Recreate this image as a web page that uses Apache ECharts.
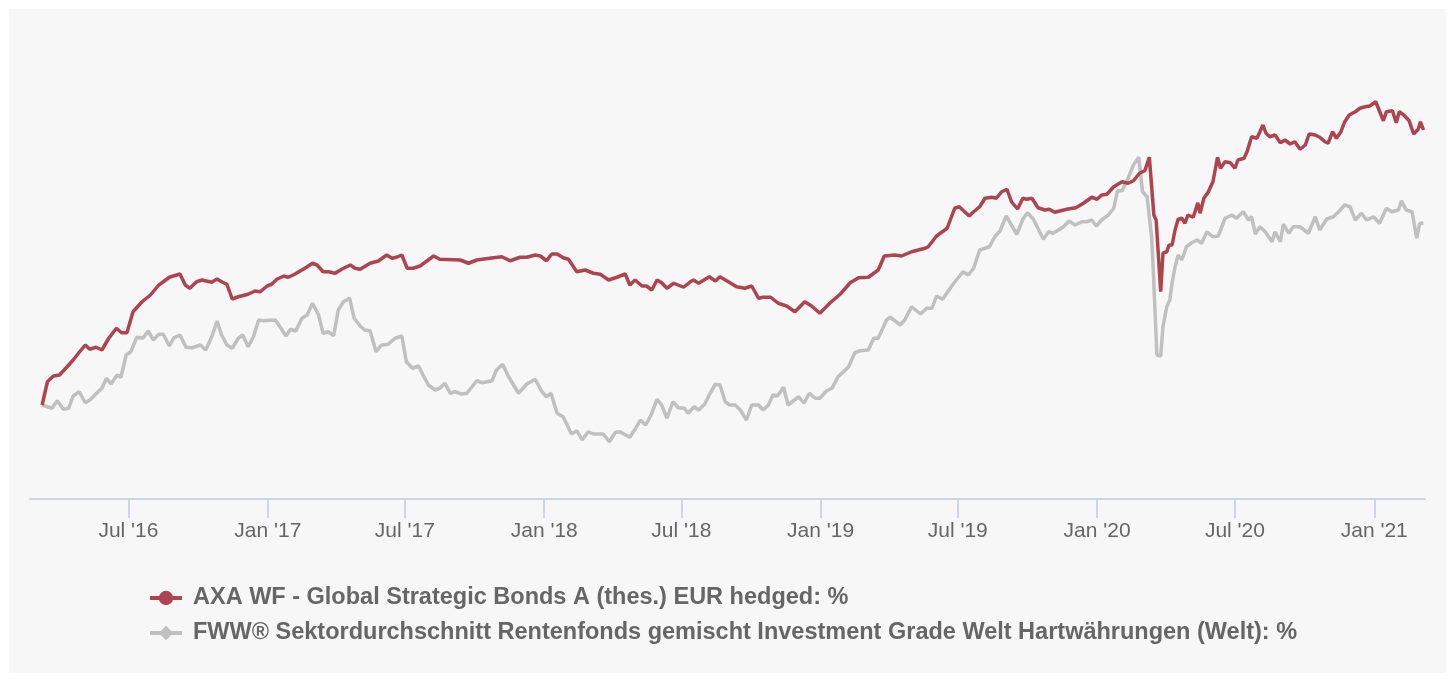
<!DOCTYPE html>
<html>
<head>
<meta charset="utf-8">
<script src="https://cdn.jsdelivr.net/npm/echarts@6/dist/echarts.min.js"></script>
<style>
  html, body { margin: 0; padding: 0; background: #fff; }
  #chart { position: absolute; left: 9px; top: 9px; width: 1437px; height: 664px; }
</style>
</head>
<body>
<div id="chart"></div>
<script>
var chart = echarts.init(document.getElementById('chart'));

// x = days since 2016-03-09, values in %
var fundName = 'AXA WF - Global Strategic Bonds A (thes.) EUR hedged: %';
var sectorName = 'FWW® Sektordurchschnitt Rentenfonds gemischt Investment Grade Welt Hartwährungen (Welt): %';

var fundDays = [0,7,15,23,33,41,48,57,63,71,79,88,98,105,112,120,132,143,154,160,
  168,182,189,195,204,211,224,231,237,244,251,259,272,281,288,297,303,310,319,325,
  334,343,349,357,363,371,378,387,396,407,413,420,433,444,455,462,468,475,482,490,
  499,508,517,525,552,563,574,591,607,618,631,640,651,658,666,673,680,688,695,706,
  717,728,737,748,759,770,776,783,792,798,805,812,818,825,834,847,856,860,867,881,
  889,895,906,917,928,937,946,952,962,972,983,994,1007,1016,1027,1040,1054,1067,1078,1091,
  1104,1112,1126,1135,1148,1166,1170,1181,1195,1205,1211,1224,1230,1238,1245,1254,1260,1267,1274,1280,
  1288,1295,1300,1307,1315,1324,1330,1337,1353,1365,1375,1386,1393,1399,1406,1415,1426,1434,1441,1449,
  1456,1462,1468,1471,1477,1480,1485,1488,1492,1496,1500,1505,1509,1513,1520,1526,1529,1534,1540,1546,
  1552,1556,1562,1569,1575,1579,1587,1591,1597,1604,1608,1612,1616,1621,1628,1635,1641,1648,1654,1661,
  1668,1673,1681,1687,1694,1698,1704,1709,1715,1720,1726,1734,1740,1747,1753,1761,1771,1775,1783,1788,
  1792,1798,1805,1811,1817,1820,1824];
var fundValues = [0,0.93,1.16,1.2,1.53,1.8,2.07,2.4,2.23,2.31,2.2,2.67,3.07,2.89,2.89,3.73,4.13,4.4,4.8,4.93,
  5.11,5.24,4.8,4.67,4.93,5.0,4.91,5.04,4.93,4.83,4.24,4.33,4.43,4.56,4.53,4.76,4.83,5.03,5.16,5.11,
  5.24,5.4,5.51,5.67,5.6,5.33,5.33,5.27,5.44,5.6,5.47,5.43,5.67,5.76,6.0,5.87,5.91,6.0,5.47,5.47,
  5.56,5.76,5.96,5.83,5.8,5.67,5.8,5.87,5.93,5.77,5.91,5.91,6.0,5.96,5.77,6.04,6.04,5.89,5.83,5.33,
  5.4,5.27,5.23,5.0,5.11,5.24,4.8,5.0,4.76,4.76,4.6,5.0,4.89,4.67,4.87,4.71,4.93,5.0,4.87,5.13,
  4.96,5.13,4.93,4.73,4.67,4.76,4.27,4.31,4.31,4.07,3.96,3.73,4.13,3.96,3.67,4.07,4.44,4.89,5.09,5.11,
  5.4,5.96,6.0,5.96,6.13,6.27,6.33,6.76,7.07,7.87,7.93,7.56,7.73,7.93,8.27,8.31,8.27,8.53,8.63,8.13,
  7.84,8.27,8.23,8.27,7.89,7.8,7.83,7.71,7.83,7.89,8.07,8.31,8.23,8.4,8.43,8.73,8.93,8.87,8.97,9.27,
  9.37,9.91,7.6,7.4,4.53,6.07,6.13,6.4,6.4,7.0,7.43,7.47,7.27,7.6,7.51,8.09,7.67,8.27,8.53,8.93,
  9.91,9.47,9.73,9.69,9.47,9.8,9.87,10.13,10.73,10.67,10.93,11.2,10.87,10.73,10.8,10.49,10.6,10.44,10.53,10.23,
  10.4,10.84,10.8,10.71,10.53,10.47,10.93,10.67,10.93,11.33,11.6,11.73,11.87,11.93,11.96,12.13,11.37,11.73,11.77,11.29,
  11.73,11.6,11.37,10.84,11.03,11.33,11.0];

var sectorDays = [0,13,20,28,35,41,49,57,63,74,79,85,91,99,104,111,117,125,133,140,
  147,154,160,168,174,182,190,198,209,216,224,231,237,244,251,259,265,272,279,286,
  292,308,314,322,328,335,343,350,357,365,371,378,385,391,398,406,412,420,426,433,
  441,448,457,466,475,481,489,497,503,510,519,525,532,539,545,554,561,574,581,594,
  600,608,616,629,640,651,660,666,672,680,688,699,706,713,721,728,741,749,757,763,
  776,783,790,797,804,812,818,825,833,840,848,853,861,867,875,882,889,895,902,908,
  915,922,930,937,946,952,959,965,971,979,985,999,1006,1013,1021,1027,1036,1043,1051,1065,
  1073,1080,1091,1098,1104,1115,1120,1133,1139,1148,1160,1168,1175,1181,1189,1203,1216,1223,1230,1238,
  1251,1258,1265,1273,1287,1295,1301,1309,1322,1329,1335,1348,1356,1364,1373,1379,1386,1392,1399,1408,
  1415,1420,1426,1434,1441,1448,1453,1459,1465,1467,1472,1477,1480,1485,1489,1492,1496,1500,1505,1511,
  1518,1525,1531,1538,1546,1553,1562,1571,1577,1586,1593,1597,1602,1608,1615,1624,1628,1635,1639,1646,
  1652,1661,1672,1681,1687,1696,1705,1712,1720,1727,1734,1742,1749,1758,1766,1775,1782,1791,1795,1801,
  1809,1815,1819,1824];
var sectorValues = [0,-0.13,0.17,-0.17,-0.13,0.36,0.53,0.09,0.2,0.53,0.67,1.07,0.84,1.2,1.11,2.0,2.13,2.71,2.67,2.96,
  2.6,2.83,2.83,2.36,2.69,2.8,2.31,2.29,2.4,2.2,2.73,3.36,2.8,2.4,2.27,2.67,2.8,2.33,2.73,3.4,
  3.37,3.4,3.13,2.76,3.03,2.96,3.47,3.6,4.07,3.6,2.87,2.93,2.77,3.8,4.13,4.27,3.47,3.16,3.0,2.97,
  2.13,2.4,2.43,2.67,2.76,1.73,1.47,1.56,1.2,0.8,0.6,0.67,0.87,0.47,0.53,0.44,0.47,0.97,0.89,0.97,
  1.4,1.63,1.13,0.47,0.84,1.03,0.53,0.33,0.47,-0.33,-0.47,-1.16,-1.03,-1.4,-1.07,-1.16,-1.16,-1.47,-1.09,-1.07,
  -1.29,-0.97,-0.6,-0.8,-0.4,0.23,0,-0.53,0.13,-0.11,-0.13,-0.33,-0.07,-0.2,0.04,0.47,0.83,0.8,0.13,0,
  0,-0.2,-0.6,0,0,-0.2,0,0.4,0.36,0.71,0,0.33,0.07,0.47,0.27,0.27,0.57,0.67,1.13,1.53,
  2.09,2.17,2.2,2.67,2.67,3.4,3.51,3.2,3.4,3.93,3.64,3.87,3.87,4.36,4.23,4.84,5.33,5.2,5.47,6.2,
  6.33,6.73,6.97,7.56,6.83,7.43,7.69,7.43,6.63,6.93,6.87,7.11,7.36,7.2,7.33,7.33,7.4,7.16,7.4,7.6,
  7.87,8.57,8.57,9.07,9.6,9.91,8.53,8.33,6.73,5.53,2.0,1.96,3.13,3.93,4.2,4.87,5.53,6.0,5.8,6.33,
  6.49,6.6,6.47,6.93,6.73,6.76,7.47,7.6,7.47,7.73,7.4,7.53,6.84,7.13,6.93,6.53,6.93,6.53,7.24,6.87,
  7.13,7.13,6.87,7.53,7.0,7.43,7.53,7.73,8.0,7.93,7.4,7.67,7.4,7.53,7.27,7.87,7.73,7.8,8.17,7.8,
  7.73,6.67,7.27,7.27];

var tickDates = ['2016-07-01','2017-01-01','2017-07-01','2018-01-01','2018-07-01',
  '2019-01-01','2019-07-01','2020-01-01','2020-07-01','2021-01-01'];
var tickLabels = ["Jul '16","Jan '17","Jul '17","Jan '18","Jul '18",
  "Jan '19","Jul '19","Jan '20","Jul '20","Jan '21"];

var DAY = 86400000;
var start = Date.UTC(2016, 2, 9);
function dayOf(s) {
  var p = s.split('-');
  return Math.round((Date.UTC(+p[0], +p[1] - 1, +p[2]) - start) / DAY);
}
var tickDays = tickDates.map(dayOf);
var fundData = fundDays.map(function (d, i) { return [d, fundValues[i]]; });
var sectorData = sectorDays.map(function (d, i) { return [d, sectorValues[i]]; });

var labelColor = '#666666';
var axisColor = '#ccd6eb';

option = {
    backgroundColor: '#f7f7f7',
    animation: false,
    textStyle: {
        fontFamily: '"Liberation Sans", Arial, sans-serif'
    },
    grid: {
        left: 21,
        right: 21,
        top: 71,
        bottom: 174
    },
    legend: {
        orient: 'vertical',
        left: 134,
        top: 572,
        itemGap: 11,
        itemWidth: 32,
        itemHeight: 18,
        lineStyle: { width: 4 },
        data: [fundName, sectorName],
        textStyle: {
            color: labelColor,
            fontSize: 23.5,
            fontWeight: 'bold',
            padding: [0, 0, 0, 6]
        }
    },
    xAxis: {
        type: 'value',
        min: dayOf('2016-02-22'),
        max: dayOf('2021-03-09'),
        axisLine: {
            show: true,
            onZero: false,
            lineStyle: { color: axisColor, width: 2 }
        },
        axisTick: {
            show: true,
            length: 19,
            customValues: tickDays,
            lineStyle: { color: axisColor, width: 2 }
        },
        axisLabel: {
            color: labelColor,
            fontSize: 21,
            margin: 22,
            customValues: tickDays,
            formatter: function (value) {
                var i = tickDays.indexOf(value);
                return i >= 0 ? tickLabels[i] : '';
            }
        },
        splitLine: { show: false }
    },
    yAxis: {
        type: 'value',
        show: false,
        min: -3.76,
        max: 13.0,
        splitLine: { show: false }
    },
    series: [{
        name: sectorName,
        type: 'line',
        data: sectorData,
        symbol: 'diamond',
        symbolSize: 14,
        showSymbol: false,
        z: 2,
        color: '#c0c0c0',
        lineStyle: { width: 3.5, color: '#c0c0c0' },
        emphasis: { disabled: true }
    }, {
        name: fundName,
        type: 'line',
        data: fundData,
        symbol: 'circle',
        symbolSize: 14,
        showSymbol: false,
        z: 3,
        color: '#ad4450',
        lineStyle: { width: 3.5, color: '#ad4450' },
        emphasis: { disabled: true }
    }]
};

chart.setOption(option);
</script>
</body>
</html>
